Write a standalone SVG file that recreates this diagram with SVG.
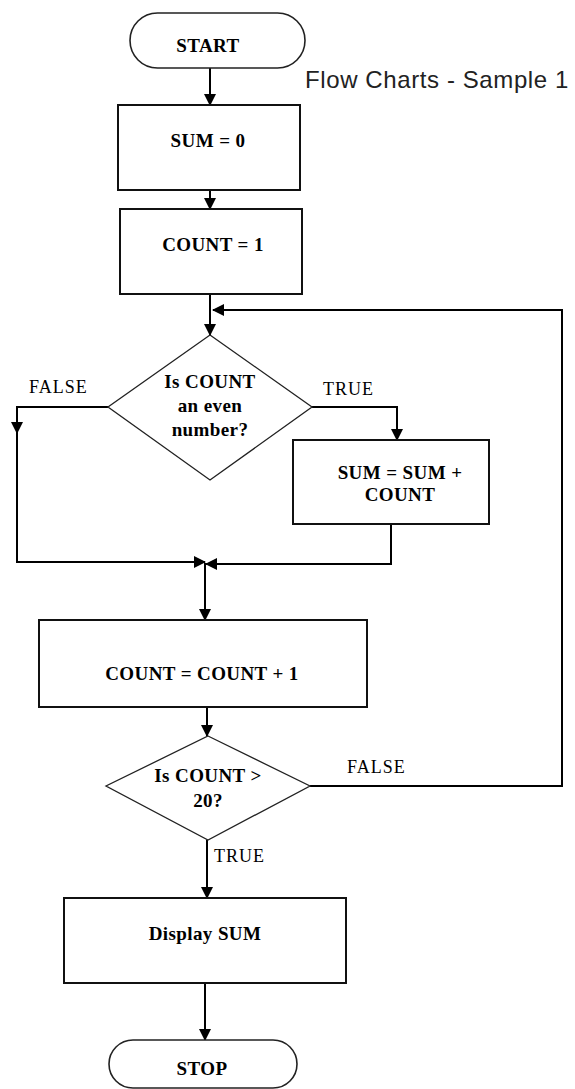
<svg xmlns="http://www.w3.org/2000/svg" width="575" height="1089" viewBox="0 0 575 1089">
<style>
.shape{fill:#fff;stroke:#111;stroke-width:2}
.term{fill:#fff;stroke:#222;stroke-width:1.6}
.dia{fill:#fff;stroke:#222;stroke-width:1.3}
.t{font-family:"Liberation Serif",serif;font-weight:bold;font-size:19px;fill:#000;text-anchor:middle;letter-spacing:0.4px}
.lbl{font-family:"Liberation Serif",serif;font-size:18px;fill:#000;letter-spacing:1px}
.ttl{font-family:"Liberation Sans",Arial,sans-serif;font-size:24px;fill:#222;letter-spacing:0.6px}
.c{fill:none;stroke:#000;stroke-width:2}
</style>
<defs>
<marker id="ah" markerUnits="userSpaceOnUse" markerWidth="12" markerHeight="12" refX="11" refY="6" orient="auto">
<path d="M0,0 L12,6 L0,12 z" fill="#000"/>
</marker>
</defs>
<text class="ttl" x="305" y="88">Flow Charts - Sample 1</text>
<g id="connectors">
<path class="c" d="M210,68 V105" marker-end="url(#ah)"/>
<path class="c" d="M210,190 V209" marker-end="url(#ah)"/>
<path class="c" d="M210,294 V335" marker-end="url(#ah)"/>
<path class="c" d="M310,786 H562 V310 H213" marker-end="url(#ah)"/>
<path class="c" d="M108,407 H17 V433" marker-end="url(#ah)"/>
<path class="c" d="M17,430 V562 H205" marker-end="url(#ah)"/>
<path class="c" d="M312,407 H397 V440" marker-end="url(#ah)"/>
<path class="c" d="M391,524 V564 H206" marker-end="url(#ah)"/>
<path class="c" d="M205,563 V620" marker-end="url(#ah)"/>
<path class="c" d="M207,707 V736" marker-end="url(#ah)"/>
<path class="c" d="M207,840 V898" marker-end="url(#ah)"/>
<path class="c" d="M205,983 V1040" marker-end="url(#ah)"/>
<text class="lbl" x="29" y="393">FALSE</text>
<text class="lbl" x="323" y="395">TRUE</text>
<text class="lbl" x="347" y="773">FALSE</text>
<text class="lbl" x="214" y="862">TRUE</text>
</g>
<g id="start">
<rect class="term" x="130" y="13" width="175" height="55" rx="27.5" ry="27.5"/>
<text class="t" x="208" y="52">START</text>
</g>
<g id="sum0">
<rect class="shape" x="118" y="105" width="182" height="85"/>
<text class="t" x="208" y="147">SUM = 0</text>
</g>
<g id="count1">
<rect class="shape" x="120" y="209" width="182" height="85"/>
<text class="t" x="213" y="251">COUNT = 1</text>
</g>
<g id="even">
<polygon class="dia" points="210,335 312,407 210,480 108,407"/>
<text class="t" x="210" y="388">Is COUNT</text>
<text class="t" x="210" y="412">an even</text>
<text class="t" x="210" y="436">number?</text>
</g>
<g id="addsum">
<rect class="shape" x="293" y="440" width="196" height="84"/>
<text class="t" x="400" y="479">SUM = SUM +</text>
<text class="t" x="400" y="501">COUNT</text>
</g>
<g id="inc">
<rect class="shape" x="39" y="620" width="328" height="87"/>
<text class="t" x="202" y="680">COUNT = COUNT + 1</text>
</g>
<g id="gt20">
<polygon class="dia" points="208,736 310,786 208,840 106,786"/>
<text class="t" x="208" y="782">Is COUNT &gt;</text>
<text class="t" x="208" y="807">20?</text>
</g>
<g id="display">
<rect class="shape" x="64" y="898" width="282" height="85"/>
<text class="t" x="205" y="940">Display SUM</text>
</g>
<g id="stop">
<rect class="term" x="109" y="1040" width="188" height="48" rx="24" ry="24"/>
<text class="t" x="202" y="1075">STOP</text>
</g>
</svg>
